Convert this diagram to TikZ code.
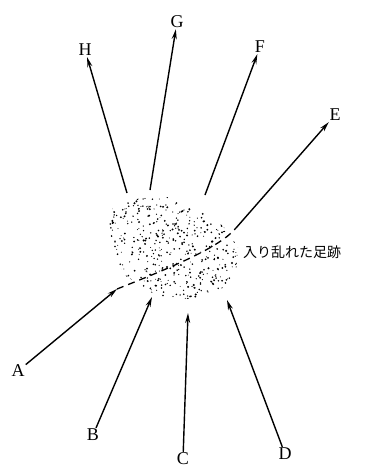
\documentclass[tikz,border=0pt]{standalone}
\usepackage{fontspec}
\setmainfont{Liberation Serif}
\newfontfamily\jpfont{Noto Sans CJK JP}
\usetikzlibrary{arrows.meta}
\tikzstyle{arrow} = [line width=1.4pt,-{Stealth[length=10pt,width=5pt]}]
\tikzstyle{track} = [line width=1.3pt,dash pattern=on 7pt off 5pt]
\tikzstyle{lbl} = [inner sep=1pt,font=\fontsize{18}{18}\selectfont]

\begin{document}
\begin{tikzpicture}[x=1pt,y=-1pt]
\useasboundingbox (0,0) rectangle (375,471);

% trampled patch
\begin{scope}
\clip (113,208) -- (140,198) -- (167,197) -- (203,212) -- (223,226) -- (238,247)
  -- (236,273) -- (221,290) -- (190,299) -- (157,296) -- (123,274) -- (115,253)
  -- (107,220) -- cycle;
\pgfmathsetseed{42}
\foreach \i in {1,...,600}{
  \pgfmathsetmacro{\px}{105+135*rnd}
  \pgfmathsetmacro{\py}{194+108*rnd}
  \pgfmathsetmacro{\pr}{0.45+0.65*rnd}
  \fill (\px,\py) circle (\pr pt);
}
\end{scope}

\node[lbl] (A) at (18,371) {A};
\node[lbl] (B) at (93,435) {B};
\node[lbl] (C) at (183,459) {C};
\node[lbl] (D) at (285,454) {D};
\node[lbl] (E) at (335,115) {E};
\node[lbl] (F) at (260,47) {F};
\node[lbl] (G) at (177,22) {G};
\node[lbl] (H) at (85,50) {H};
\node[font=\jpfont\fontsize{14}{14}\selectfont,anchor=west,inner sep=0pt] (tracks) at (243,252) {入り乱れた足跡};

\coordinate (a1) at (117,289);
\coordinate (b1) at (152,297);
\coordinate (c1) at (188,313);
\coordinate (d1) at (227,300);
\coordinate (e0) at (236,228);
\coordinate (f0) at (205,195);
\coordinate (g0) at (150,190);
\coordinate (h0) at (127,193);

\draw [arrow] (A) -- (a1);
\draw [arrow] (B) -- (b1);
\draw [arrow] (C) -- (c1);
\draw [arrow] (D) -- (d1);

\draw [track] (a1) .. controls (175,266) and (220,247) .. (e0);
\draw [arrow] (e0) -- (E);
\draw [arrow] (f0) -- (F);
\draw [arrow] (g0) -- (G);
\draw [arrow] (h0) -- (H);
\end{tikzpicture}
\end{document}
